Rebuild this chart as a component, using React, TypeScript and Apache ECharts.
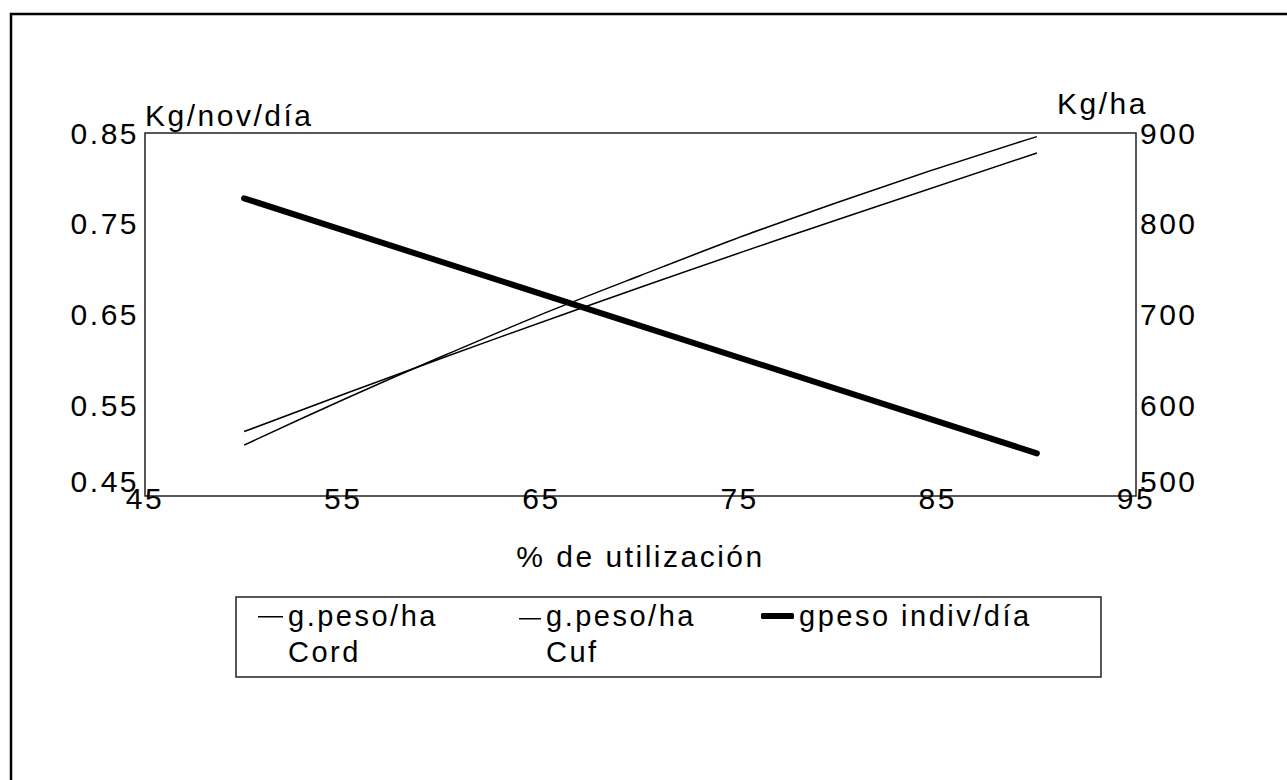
import React, { useEffect, useRef } from "react";
import * as echarts from "echarts";

const xValues = [50, 60, 70, 80, 90];
const cordValues = [556, 654, 743, 824, 896];
const cufValues = [571, 652, 730, 805, 878];
const indivX = [50, 90];
const indivValues = [0.778, 0.497];

const xTicks = [45, 55, 65, 75, 85, 95];
const leftTicks = [0.45, 0.55, 0.65, 0.75, 0.85];
const rightTicks = [500, 600, 700, 800, 900];

const seriesNames = ["g.peso/ha Cord", "g.peso/ha Cuf", "gpeso indiv/día"];

const FONT = "'Liberation Sans', Arial, sans-serif";
const FS = 30;

export default function App() {
  const ref = useRef<HTMLDivElement>(null);
  useEffect(() => {
    if (!ref.current) return;
    const chart = echarts.init(ref.current, undefined, { renderer: "svg" });
    const legendBase = {
      orient: "horizontal" as const,
      top: 598,
      padding: 0,
      textStyle: {
        fontFamily: FONT,
        fontSize: FS - 1,
        color: "#000",
        lineHeight: 36,
      },
      formatter: (n: string) => n.replace(" C", "\nC"),
      selectedMode: false,
      itemStyle: { color: "#000", borderWidth: 0 },
    };
    const thinIcon = "path://M0,0L25,0L25,1.5L0,1.5Z M0,36L0.1,36L0.1,36.1L0,36.1Z";
    chart.setOption({
      animation: false,
      backgroundColor: "#fff",
      grid: {
        left: 145,
        top: 133,
        width: 991,
        height: 363,
        show: true,
        borderColor: "#222",
        borderWidth: 1.5,
        backgroundColor: "transparent",
      },
      xAxis: {
        type: "value",
        min: xTicks[0],
        max: xTicks[xTicks.length - 1],
        interval: 10,
        name: "% de utilización",
        nameLocation: "middle",
        nameGap: 45,
        nameTextStyle: { fontFamily: FONT, fontSize: FS, color: "#000" },
        axisLine: { show: false },
        axisTick: { show: false },
        splitLine: { show: false },
        axisLabel: {
          margin: -13,
          fontFamily: FONT,
          fontSize: FS,
          color: "#000",
          verticalAlign: "top",
        },
      },
      yAxis: [
        {
          type: "value",
          min: leftTicks[0],
          max: leftTicks[leftTicks.length - 1],
          interval: 0.1,
          name: "Kg/nov/día",
          nameLocation: "end",
          nameGap: 3,
          nameTextStyle: {
            fontFamily: FONT,
            fontSize: FS,
            color: "#000",
            align: "left",
            verticalAlign: "bottom",
          },
          axisLine: { show: false },
          axisTick: { show: false },
          splitLine: { show: false },
          axisLabel: {
            margin: 6,
            fontFamily: FONT,
            fontSize: FS,
            color: "#000",
            formatter: (v: number) =>
              Math.abs(v - leftTicks[0]) < 1e-9 ? "{lo|" + v.toFixed(2) + "}" : v.toFixed(2),
            rich: {
              lo: { fontFamily: FONT, fontSize: FS, color: "#000", padding: [0, 0, 30, 0] },
            },
          },
        },
        {
          type: "value",
          position: "right",
          min: rightTicks[0],
          max: rightTicks[rightTicks.length - 1],
          interval: 100,
          name: "Kg/ha",
          nameLocation: "end",
          nameGap: 3,
          nameTextStyle: {
            fontFamily: FONT,
            fontSize: FS,
            color: "#000",
            align: "right",
            verticalAlign: "bottom",
            padding: [0, -12, 0, 0],
          },
          axisLine: { show: false },
          axisTick: { show: false },
          splitLine: { show: false },
          axisLabel: {
            margin: 4,
            fontFamily: FONT,
            fontSize: FS,
            color: "#000",
            formatter: (v: number) =>
              v === rightTicks[0] ? "{lo|" + v + "}" : String(v),
            rich: {
              lo: { fontFamily: FONT, fontSize: FS, color: "#000", padding: [0, 0, 30, 0] },
            },
          },
        },
      ],
      legend: [
        { ...legendBase, left: 258, itemWidth: 25, itemHeight: 37.5, icon: thinIcon, data: [seriesNames[0]] },
        { ...legendBase, left: 519, itemWidth: 22, itemHeight: 37.5, icon: thinIcon, data: [seriesNames[1]] },
        { ...legendBase, left: 761, itemWidth: 33, itemHeight: 6, icon: "roundRect", data: [seriesNames[2]] },
      ],
      graphic: [
        {
          type: "rect",
          shape: { x: 11, y: 14, width: 1300, height: 800 },
          style: { fill: "none", stroke: "#000", lineWidth: 2.5 },
          silent: true,
        },
        {
          type: "rect",
          shape: { x: 236, y: 597, width: 865, height: 80 },
          style: { fill: "none", stroke: "#222", lineWidth: 1.5 },
          silent: true,
        },
      ],
      series: [
        {
          name: seriesNames[0],
          type: "line",
          yAxisIndex: 1,
          smooth: true,
          symbol: "none",
          data: xValues.map((x, i) => [x, cordValues[i]]),
          lineStyle: { color: "#000", width: 1.5 },
          itemStyle: { color: "#000" },
        },
        {
          name: seriesNames[1],
          type: "line",
          yAxisIndex: 1,
          smooth: true,
          symbol: "none",
          data: xValues.map((x, i) => [x, cufValues[i]]),
          lineStyle: { color: "#000", width: 1.5 },
          itemStyle: { color: "#000" },
        },
        {
          name: seriesNames[2],
          type: "line",
          yAxisIndex: 0,
          symbol: "none",
          data: indivX.map((x, i) => [x, indivValues[i]]),
          lineStyle: { color: "#000", width: 6, cap: "round" },
          itemStyle: { color: "#000" },
        },
      ],
    });
    return () => chart.dispose();
  }, []);
  return (
    <div
      ref={ref}
      style={{
        position: "fixed",
        left: 0,
        top: 0,
        width: 1287,
        height: 780,
        background: "#fff",
        letterSpacing: "2.5px",
      }}
    />
  );
}
